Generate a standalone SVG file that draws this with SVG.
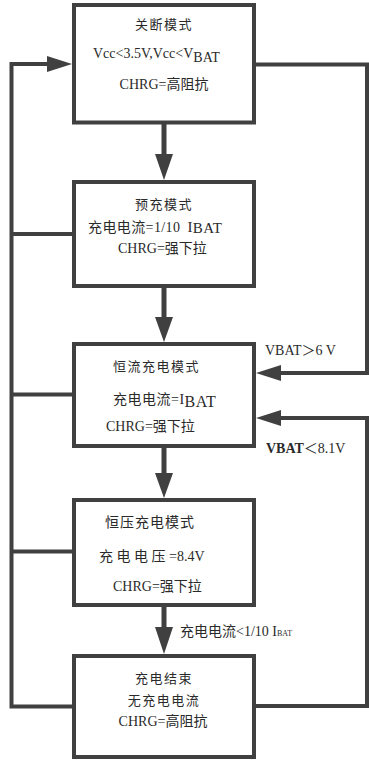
<svg xmlns="http://www.w3.org/2000/svg" width="369" height="760" viewBox="0 0 369 760">
<style>
.box{fill:#fff;stroke:#404040;stroke-width:4}
.ln{fill:none;stroke:#404040;stroke-width:4}
.vl{fill:none;stroke:#404040;stroke-width:5}
.ah{fill:#404040}
text{font-family:"Liberation Serif","Noto Sans CJK SC",serif;fill:#2a2a2a;font-size:14px}
.c{text-anchor:middle}
.cn{font-size:13px;letter-spacing:1.5px}
</style>
<rect width="369" height="760" fill="#fff"/>
<g id="connectors">
  <path class="ln" d="M76 706.5 H11.5 V64 H50"/>
  <path class="ln" d="M11.5 234 H74 M11.5 394.5 H74 M11.5 551.5 H74"/>
  <polygon class="ah" points="72,64 47,56 47,72"/>
  <path class="ln" d="M254 64.5 H367 V373 H278"/>
  <polygon class="ah" points="256,373 281,365 281,381"/>
  <path class="ln" d="M254 706 H367 V418 H278"/>
  <polygon class="ah" points="256,418 281,410 281,426"/>
  <path class="vl" d="M164 124 V156 M164 288 V320 M164 448 V476 M164 607 V632"/>
  <polygon class="ah" points="164,180 155,154 173,154"/>
  <polygon class="ah" points="164,342 155,317 173,317"/>
  <polygon class="ah" points="164,498 155,473 173,473"/>
  <polygon class="ah" points="164,654 155,627 173,627"/>
</g>
<g id="n1">
  <rect class="box" x="74" y="5" width="180" height="117.5"/>
  <text class="c cn" x="164" y="29">关断模式</text>
  <text x="93" y="58" font-size="16">Vcc&lt;3.5V,Vcc&lt;V<tspan dy="4">BAT</tspan></text>
  <text class="c" x="164" y="89" font-size="15">CHRG=高阻抗</text>
</g>
<g id="n2">
  <rect class="box" x="74" y="182" width="180" height="104"/>
  <text class="c cn" x="164" y="209">预充模式</text>
  <text x="88" y="232" letter-spacing="0.4">充电电流=1/10<tspan dx="7" font-size="15">I</tspan><tspan font-size="15" dy="1">BAT</tspan></text>
  <text x="118" y="253" font-size="15">CHRG=强下拉</text>
</g>
<g id="n3">
  <rect class="box" x="74" y="344" width="180" height="102"/>
  <text x="113" y="371" class="cn">恒流充电模式</text>
  <text x="113" y="404" font-size="15" letter-spacing="0.5">充电电流=I<tspan font-size="16" dy="3">BAT</tspan></text>
  <text x="106" y="431" font-size="15">CHRG=强下拉</text>
</g>
<g id="n4">
  <rect class="box" x="74" y="500" width="180" height="105"/>
  <text x="105" y="527" font-size="12" letter-spacing="1">恒压充电模式</text>
  <text x="99" y="561" font-size="12">充 电 电 压 =8.4V</text>
  <text x="113" y="591" font-size="15">CHRG=强下拉</text>
</g>
<g id="n5">
  <rect class="box" x="74" y="656" width="180" height="101"/>
  <text class="c cn" x="164" y="683">充电结束</text>
  <text class="c cn" x="164" y="705">无充电电流</text>
  <text class="c" x="163" y="726" font-size="15">CHRG=高阻抗</text>
</g>
<g id="labels">
  <text x="265" y="355" font-size="15">VBAT＞6 V</text>
  <text x="266" y="453" font-size="13"><tspan font-weight="bold">VBAT</tspan>＜8.1V</text>
  <text x="180" y="636" font-size="16">充电电流&lt;1/10 I<tspan font-size="8">BAT</tspan></text>
</g>
</svg>
